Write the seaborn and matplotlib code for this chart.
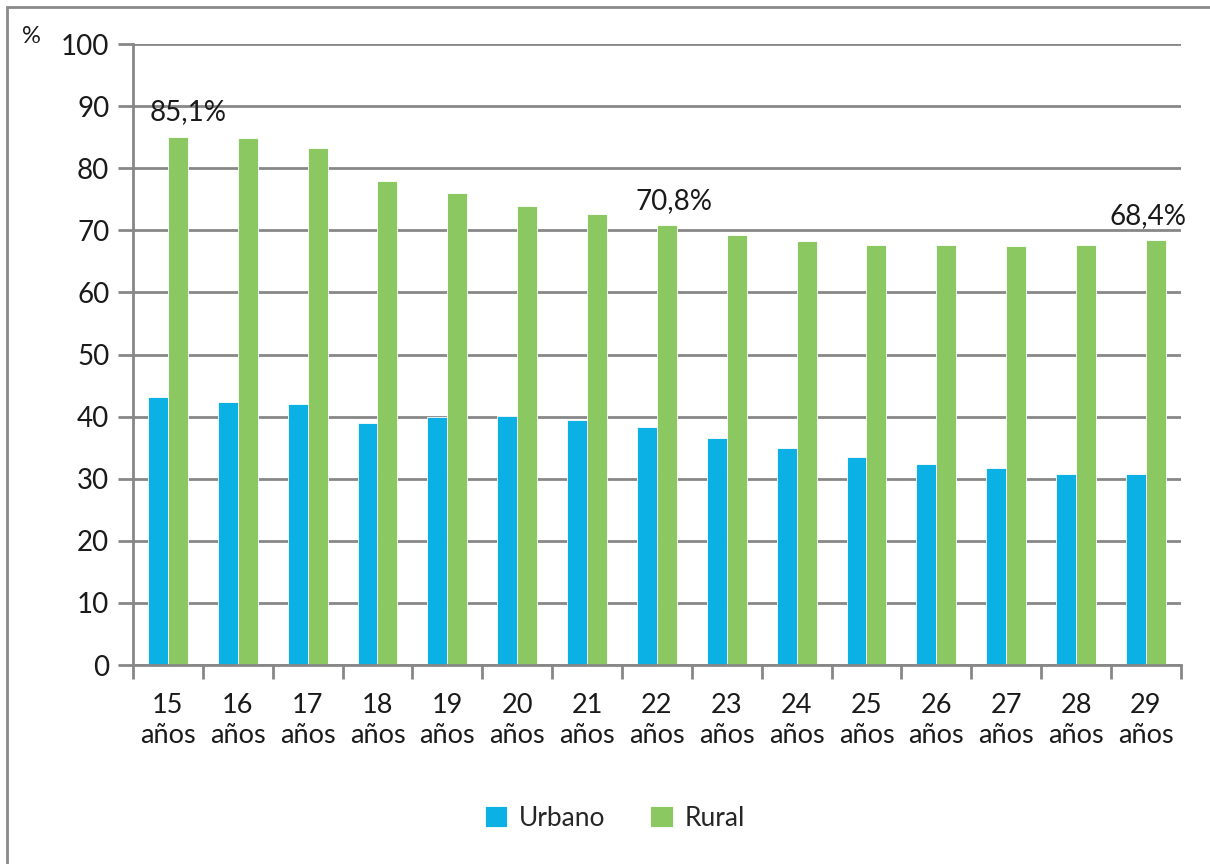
import matplotlib
matplotlib.use("Agg")
import matplotlib.pyplot as plt
import seaborn as sns
import pandas as pd
from matplotlib.patches import Rectangle

# Data
edades = ["15\naños", "16\naños", "17\naños", "18\naños", "19\naños", "20\naños",
          "21\naños", "22\naños", "23\naños", "24\naños", "25\naños", "26\naños",
          "27\naños", "28\naños", "29\naños"]
urbano = [43.2, 42.3, 42.0, 39.0, 39.9, 40.1, 39.5, 38.3, 36.6, 34.9, 33.5, 32.4, 31.7, 30.8, 30.8]
rural = [85.1, 84.9, 83.3, 77.9, 76.0, 73.9, 72.6, 70.8, 69.2, 68.3, 67.6, 67.6, 67.5, 67.6, 68.4]
series = ["Urbano", "Rural"]
etiquetas_idx = [0, 7, 14]
etiquetas_txt = ["85,1%", "70,8%", "68,4%"]

df = pd.DataFrame({
    "edad": edades * 2,
    "valor": urbano + rural,
    "zona": [series[0]] * len(edades) + [series[1]] * len(edades),
})

sns.set_theme(style="white")
plt.rcParams["font.family"] = ["Lato", "DejaVu Sans"]

fig = plt.figure(figsize=(12.10, 8.64), dpi=100)
ax = fig.add_axes([0.1099, 0.2303, 0.866, 0.7187])

palette = {"Urbano": "#0BB0E4", "Rural": "#8BC862"}
sns.barplot(data=df, x="edad", y="valor", hue="zona", palette=palette,
            width=0.57, ax=ax, edgecolor="white", linewidth=0.6, legend=True, saturation=1)

ax.set_ylim(0, 100)
ax.set_xlim(-0.5, len(edades) - 0.5)
ax.set_yticks(range(0, 101, 10))
ax.set_xlabel("")
ax.set_ylabel("")
grid_c = "#878787"
ax.yaxis.grid(True, color=grid_c, linewidth=2)
ax.set_axisbelow(True)
for s in ["top", "right"]:
    ax.spines[s].set_visible(False)
for s in ["left", "bottom"]:
    ax.spines[s].set_color(grid_c)
    ax.spines[s].set_linewidth(2)

ax.tick_params(axis="y", which="major", length=11, width=2, color=grid_c, labelsize=20,
               left=True, pad=6, labelcolor="#1a1a1a")
ax.tick_params(axis="x", which="major", length=0, labelsize=19.5, pad=20, labelcolor="#1a1a1a")
ax.set_xticks([i - 0.5 for i in range(len(edades) + 1)], minor=True)
ax.tick_params(axis="x", which="minor", length=10, width=2, color=grid_c, bottom=True)
for lbl in ax.get_xticklabels():
    lbl.set_linespacing(1.25)

# annotations
offsets = [0.29, 0.25, 0.03]
for i, txt, off in zip(etiquetas_idx, etiquetas_txt, offsets):
    ax.annotate(txt, xy=(i + off, rural[i]), xytext=(0, 8), textcoords="offset points",
                ha="center", va="bottom", fontsize=20, color="#1a1a1a")

# % label
fig.text(0.018, 0.946, "%", fontsize=17, color="#1a1a1a", ha="left", va="bottom")

# legend
handles, labels = ax.get_legend_handles_labels()
ax.legend_.remove()
fig.legend(handles, labels, loc="center", bbox_to_anchor=(0.508, 0.053), ncol=2,
           frameon=False, fontsize=19, handlelength=0.85, handleheight=0.85,
           columnspacing=1.7, handletextpad=0.45)

# outer frame
fig.patches.append(Rectangle((7 / 1210, -0.1), 1.2, 1 - 7 / 864 + 0.1, transform=fig.transFigure,
                             fill=False, edgecolor="#8a8a8a", linewidth=2, figure=fig))

fig.savefig("out.png", dpi=100)
